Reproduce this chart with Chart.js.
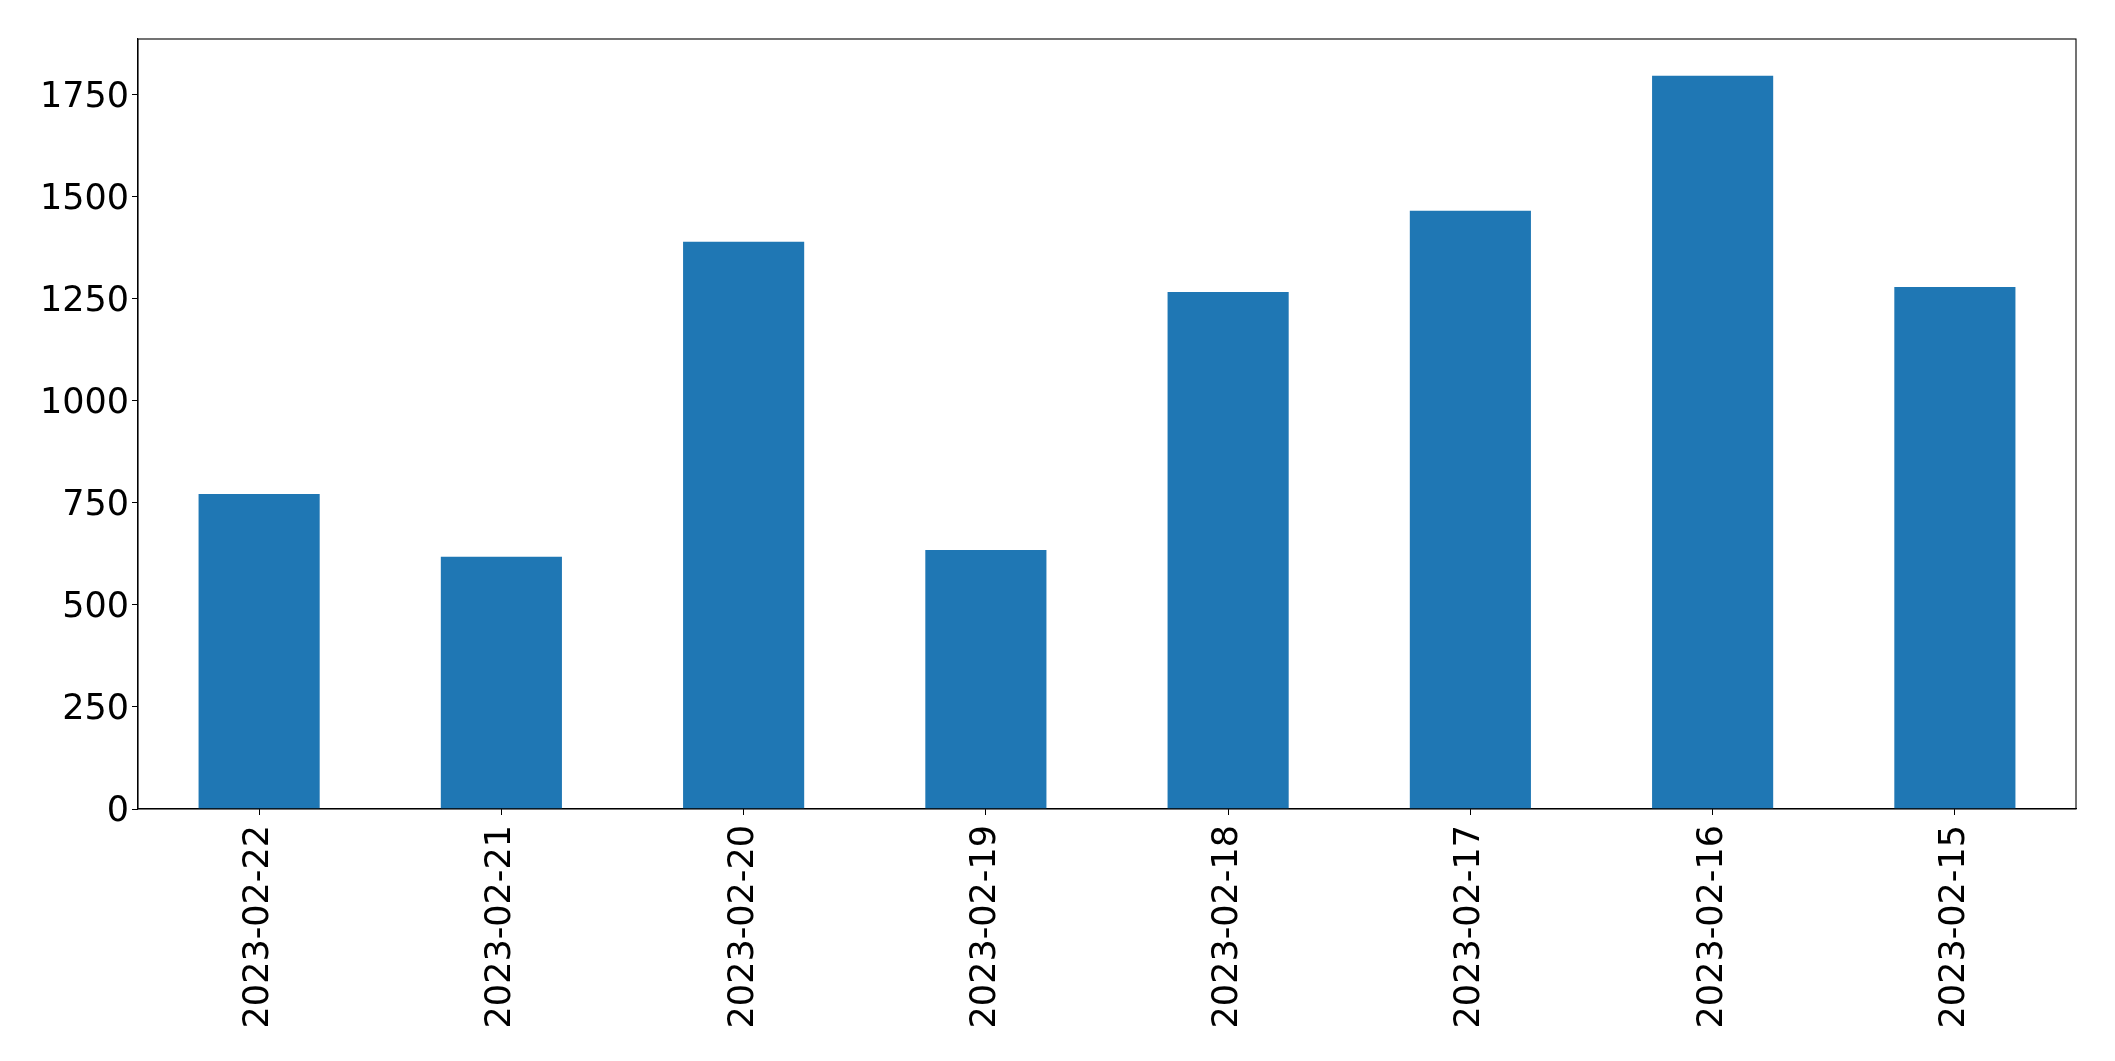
<!DOCTYPE html>
<html>
<head>
<meta charset="utf-8">
<script src="https://cdn.jsdelivr.net/npm/chart.js@4.4.1/dist/chart.umd.min.js"></script>
<style>
    html, body { margin: 0; padding: 0; background: #ffffff; }
    #wrap { width: 2115px; height: 1061px; }
</style>
</head>
<body>
<div id="wrap"><canvas id="barChart" width="2115" height="1061"></canvas></div>
<script>
// Values
const dates = ['2023-02-22', '2023-02-21', '2023-02-20', '2023-02-19', '2023-02-18', '2023-02-17', '2023-02-16', '2023-02-15'];
const counts = [772, 618, 1390, 635, 1267, 1466, 1797, 1279];
const yMax = 1887;
const yStep = 250;

// matplotlib-style box around the plot area
const frameBox = {
    id: 'frameBox',
    afterDraw(chart) {
        const a = chart.chartArea;
        const ctx = chart.ctx;
        ctx.save();
        ctx.strokeStyle = '#000000';
        ctx.lineWidth = 1.1;
        ctx.strokeRect(a.left, a.top, a.right - a.left, a.bottom - a.top);
        ctx.restore();
    }
};

const tickFont = { family: "'DejaVu Sans', sans-serif", size: 35 };

new Chart(document.getElementById('barChart'), {
    type: 'bar',
    data: {
        labels: dates,
        datasets: [{
            data: counts,
            backgroundColor: '#1f77b4',
            borderWidth: 0,
            categoryPercentage: 1.0,
            barPercentage: 0.5
        }]
    },
    options: {
        responsive: false,
        animation: false,
        layout: { padding: { left: 0, right: 39, top: 39, bottom: 0 } },
        plugins: {
            legend: { display: false },
            tooltip: { enabled: false }
        },
        scales: {
            x: {
                offset: true,
                grid: { offset: false, drawOnChartArea: false, drawTicks: true, tickLength: 6, color: '#000000' },
                border: { display: true, color: '#000000', width: 1.1 },
                ticks: { color: '#000000', font: tickFont, maxRotation: 90, minRotation: 90, padding: 10, autoSkip: false },
                afterFit: (scale) => { scale.height = 252; }
            },
            y: {
                min: 0,
                max: yMax,
                grid: { drawOnChartArea: false, drawTicks: true, tickLength: 6, color: '#000000' },
                border: { display: true, color: '#000000', width: 1.1 },
                ticks: {
                    color: '#000000', font: tickFont, stepSize: yStep, includeBounds: false, padding: 3, labelOffset: 3,
                    callback: (v) => String(v)
                },
                afterFit: (scale) => { scale.width = 138; }
            }
        }
    },
    plugins: [frameBox]
});
</script>
</body>
</html>
